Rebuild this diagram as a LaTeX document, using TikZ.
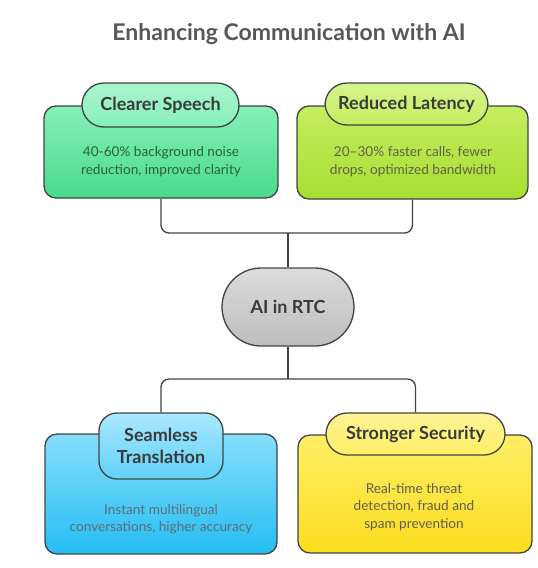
\documentclass[tikz,border=0pt]{standalone}
\usepackage{fontspec}
\setmainfont{Lato}
\usetikzlibrary{positioning}
\definecolor{edge}{HTML}{3F4542}
\definecolor{txt}{HTML}{383B3A}
\definecolor{gA}{HTML}{86F0B8}\definecolor{gB}{HTML}{48DA8C}
\definecolor{lA}{HTML}{C4EE5E}\definecolor{lB}{HTML}{A6DE32}
\definecolor{cA}{HTML}{86DEFC}\definecolor{cB}{HTML}{25BDF4}
\definecolor{yA}{HTML}{FFEE66}\definecolor{yB}{HTML}{FCDD1E}
\definecolor{sA}{HTML}{DCDCDC}\definecolor{sB}{HTML}{BDBDBD}
\tikzset{
  x=1pt,y=1pt,
  body/.style={draw=edge,line width=1.3pt,rounded corners=12pt,inner sep=0pt},
  head/.style={draw=edge,line width=1.3pt,inner sep=0pt,align=center,
     font=\fontsize{18}{22}\selectfont\bfseries,text=txt},
  desc/.style={align=center,font=\fontsize{13.6}{17.5}\selectfont},
  conn/.style={draw=edge,line width=1.3pt,rounded corners=8pt},
}
\begin{document}
\begin{tikzpicture}
\useasboundingbox (0,0) rectangle (538,-568);
\node[font=\fontsize{23}{27}\selectfont\bfseries,text=txt!85!white] (title) at (289,-34) {Enhancing Communication with AI};
\coordinate (j1) at (288,-233);
\coordinate (j2) at (288,-379);
% bodies
\node[body,top color=gA,bottom color=gB,minimum width=234,minimum height=92] (b1) at (161,-152) {};
\node[body,top color=lA,bottom color=lB,minimum width=231,minimum height=93] (b2) at (412.5,-152.5) {};
\node[body,top color=cA,bottom color=cB,minimum width=232,minimum height=120] (b3) at (161,-494) {};
\node[body,top color=yA,bottom color=yB,minimum width=234,minimum height=118] (b4) at (415,-494) {};
% connectors
\draw[conn] (b1.south) |- (j1) -| (b2.south);
% center
\node[head,top color=sA,bottom color=sB,rounded corners=39pt,minimum width=132,minimum height=78] (c) at (288,-307) {AI in RTC};
\draw[conn] (c.north) -- (j1);
\draw[conn] (c.south) -- (j2);
% headers
\node[head,top color=gA!70!white,bottom color=gA,rounded corners=22pt,minimum width=157,minimum height=44] (h1) at (160.5,-105) {Clearer Speech};
\node[head,top color=lA!70!white,bottom color=lA,rounded corners=22pt,minimum width=163,minimum height=42] (h2) at (406.5,-104) {Reduced Latency};
\node[head,top color=cA!70!white,bottom color=cA!60!cB,rounded corners=18pt,minimum width=124,minimum height=66] (h3) at (161,-446) {Seamless\\Translation};
\node[head,top color=yA!70!white,bottom color=yA,rounded corners=21pt,minimum width=179,minimum height=42] (h4) at (415.5,-434) {Stronger Security};
\draw[conn] (h3.north) |- (j2) -| (h4.north);
% descriptions
\node[desc,text=green!20!txt] (d1) at (161,-161.5) {40-60\% background noise\\reduction, improved clarity};
\node[desc,text=olive!25!txt] (d2) at (413,-161.5) {20–30\% faster calls, fewer\\drops, optimized bandwidth};
\node[desc,text=cyan!20!txt] (d3) at (161,-519) {Instant multilingual\\conversations, higher accuracy};
\node[desc,text=olive!20!txt] (d4) at (414,-507) {Real-time threat\\detection, fraud and\\spam prevention};
\end{tikzpicture}
\end{document}
